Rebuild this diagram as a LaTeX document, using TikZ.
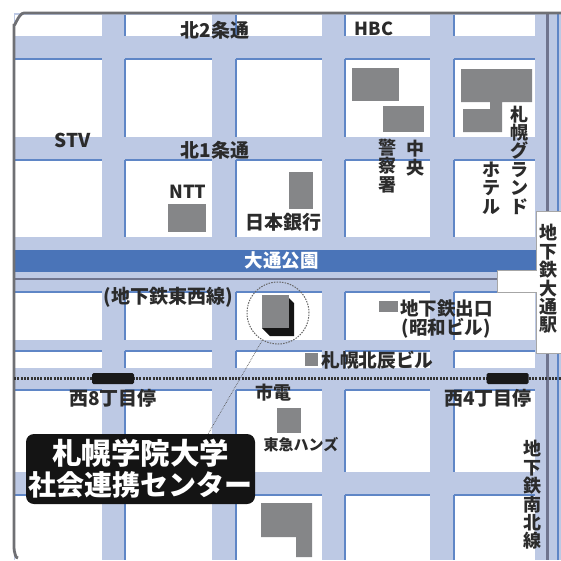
\documentclass[tikz,border=0pt]{standalone}
\usepackage{fontspec}
\newfontfamily\cjk{Noto Sans CJK JP}
\definecolor{road}{HTML}{BDC9E4}
\definecolor{edgeb}{HTML}{5F86C6}
\definecolor{band}{HTML}{4A74B8}
\definecolor{bld}{HTML}{858688}
\definecolor{ink}{HTML}{2B2B2B}
\definecolor{frm}{HTML}{6F7074}
\definecolor{rail}{HTML}{6F748E}
\tikzset{
  lab/.style={inner sep=0pt,text=ink,font=\cjk\bfseries\fontsize{#1}{#1}\selectfont,align=center},
  lab/.default=18,
  vlab/.style={inner sep=0pt,text=ink,font=\cjk\bfseries\fontsize{18}{18.4}\selectfont,align=center},
  bldg/.style={fill=bld,draw=none},
  blueedge/.style={draw=edgeb,line width=1.6pt},
  framel/.style={draw=frm,line width=2.8pt},
  stopbar/.style={fill=black!90,rounded corners=1.5pt,inner sep=0pt,minimum width=42pt,minimum height=11pt}
}
\begin{document}
\begin{tikzpicture}[x=1pt,y=-1pt]
\useasboundingbox (0,0) rectangle (561,560);
\fill[white] (0,0) rectangle (561,560);
% roads
\fill[road] (14,13) rectangle (561,560);
% blocks
\foreach \xa/\xb/\hasleft in {15/102/0,125/212/1,236/322/1,345/430/1,454/535/1}{
  \foreach \ya/\yb/\hastop in {15/36/0,59/137/1,160/237/1,292/340/1,351/368/1,390/472/1,495/560/1}{
    \fill[white] (\xa,\ya) rectangle (\xb,\yb);
    \ifnum\hastop=1 \draw[blueedge] (\xa,\ya) -- (\xb,\ya);\fi
    \ifnum\hasleft=1 \draw[blueedge] (\xa,\ya) -- (\xa,\yb);\fi
  }
}
% right side street
\draw[blueedge] (558,13) -- (558,560);
\draw[draw=rail,line width=3pt] (547,13) -- (547,560);
% band
\fill[band] (14,250) rectangle (536,272);
\draw[rail,line width=2pt] (14,279) -- (497,279);
% frame
\draw[framel] (561,13) -- (24,13) to[out=180,in=-90] (14,24) -- (14,548) to[out=90,in=180] (18,558);
% buildings
\fill[bldg] (168,204) rectangle (206,232);
\fill[bldg] (289,172) rectangle (313,209);
\fill[bldg] (352,68) rectangle (399,101);
\fill[bldg] (383,106) rectangle (424,132);
\fill[bldg] (461,69) -- (532,69) -- (532,102) -- (502,102) -- (502,132) -- (463,132) -- (463,109) -- (490,109) -- (490,102) -- (461,102) -- cycle;
\fill[bldg] (277,408) rectangle (301,433);
\fill[bldg] (261,503) -- (312,503) -- (312,557) -- (296,557) -- (296,537) -- (261,537) -- cycle;
\fill[bldg] (379,301) rectangle (398,312);
\fill[bldg] (305,353) rectangle (318,366);
% main building
\fill[black!92] (287,296) -- (294,303) -- (294,336) -- (270,336) -- (262,328) -- cycle;
\fill[bld] (262,295) rectangle (289,328);
\node[circle,draw=black!60,dash pattern=on 1.5pt off 1.2pt,line width=1pt,minimum size=62pt,inner sep=0pt] (hq) at (278,313) {};
% tram line
\draw[black!80,line width=3pt,dash pattern=on 2pt off 1.3pt] (14,378) -- (561,378);
\node[stopbar] (stopw) at (113,378.5) {};
\node[stopbar] (stope) at (507.5,378.5) {};
% subway label panel
\path[fill=white,draw=black!35,line width=0.9pt] (561,353) -- (536,353) -- (536,292) -- (497,292) -- (497,270) -- (536,270) -- (536,211) -- (561,211);
% labels
\node[lab=19] (n2) at (215,30) {北2条通};
\node[lab] (hbc) at (374,29) {HBC};
\node[lab=19] (stv) at (73,140) {STV};
\node[lab=19] (n1) at (215,150) {北1条通};
\node[lab] (ntt) at (188,192) {NTT};
\node[lab=19] (boj) at (283,222) {日本銀行};
\node[lab=18.5,text=white] (park) at (281.5,261) {大通公園};
\node[lab=19] (tozai) at (168,297) {(地下鉄東西線)};
\node[lab=18.5] (exit1) at (446.5,308) {地下鉄出口};
\node[lab=18.5] (exit2) at (446,328) {(昭和ビル)};
\node[lab=18.7] (hoku) at (377.5,360) {札幌北辰ビル};
\node[lab] (shiden) at (273,393) {市電};
\node[lab=19] (w8) at (113,398) {西8丁目停};
\node[lab=19] (w4) at (488,398) {西4丁目停};
\node[lab=15] (hands) at (301,445) {東急ハンズ};
\node[vlab] (chuo) at (415,158) {中\\央};
\node[vlab] (keisatsu) at (387,166) {警\\察\\署};
\node[vlab] (grand) at (519,160) {札\\幌\\グ\\ラ\\ン\\ド};
\node[vlab] (hotel) at (491,188) {ホ\\テ\\ル};
\node[vlab] (odori) at (548,279) {地\\下\\鉄\\大\\通\\駅};
\node[vlab] (nanboku) at (532,495) {地\\下\\鉄\\南\\北\\線};
% centre label
\coordinate (lead) at (208,434);
\draw[black!65,line width=0.7pt,densely dotted] (hq.240) -- (lead);
\node[fill=black!92,rounded corners=8pt,minimum width=229pt,minimum height=70pt,inner sep=0pt,text=white,align=center,font=\cjk\bfseries\fontsize{28}{31}\selectfont] (center) at (140.5,469) {{\fontsize{29.5}{31}\selectfont 札幌学院大学}\\社会連携センター};
\end{tikzpicture}
\end{document}
